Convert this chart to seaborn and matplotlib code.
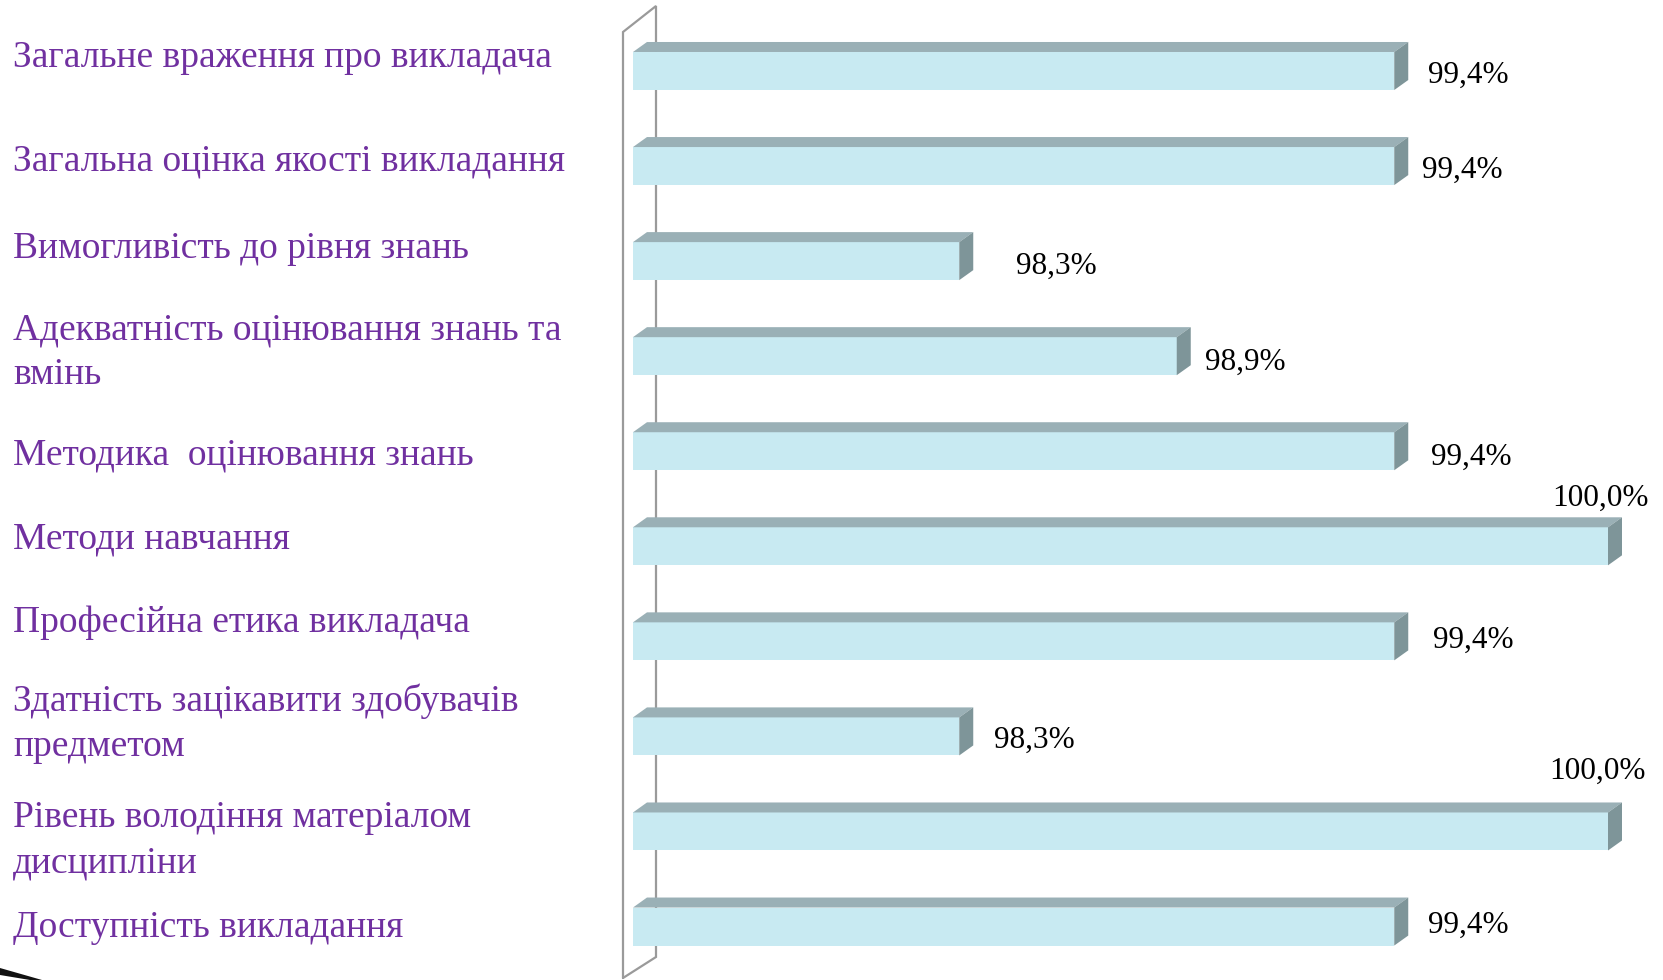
import matplotlib
matplotlib.use("Agg")
import matplotlib.pyplot as plt
from matplotlib.patches import Polygon
import seaborn as sns
import pandas as pd

# ---- data ----
categories = [
    "Загальне враження про викладача",
    "Загальна оцінка якості викладання",
    "Вимогливість до рівня знань",
    "Адекватність оцінювання знань та\nвмінь",
    "Методика  оцінювання знань",
    "Методи навчання",
    "Професійна етика викладача",
    "Здатність зацікавити здобувачів\nпредметом",
    "Рівень володіння матеріалом\nдисципліни",
    "Доступність викладання",
]
values = [99.43, 99.43, 98.27, 98.85, 99.43, 100.0, 99.43, 98.27, 100.0, 99.43]
value_labels = ["99,4%", "99,4%", "98,3%", "98,9%", "99,4%",
                "100,0%", "99,4%", "98,3%", "100,0%", "99,4%"]

# ---- layout / style ----
W, H, DPI = 1663, 980, 100
FRONT = "#c8eaf2"
TOP = "#9ab0b6"
SIDE = "#7e9599"
WALL = "#9a9a9a"
PURPLE = "#7030a0"
SERIF = ["Liberation Serif", "DejaVu Serif"]

px_per_unit_x = 375.0
px_per_row = 95.06
first_center_px = 71.0
x_left_px = 633.0
xmin = 97.4
xmax = xmin + (W - x_left_px) / px_per_unit_x
ytop = -first_center_px / px_per_row
ybot = (H - first_center_px) / px_per_row

depth_dx = 14.0 / px_per_unit_x
depth_dy = 10.0 / px_per_row

# label layout (pixels)
cat_baselines = [[67], [171], [258], [339, 384], [464], [549], [632],
                 [711, 756], [827, 872], [937]]
val_offsets = [(34, 4), (28, 4), (57, 5), (28, 6), (37, 6), (-56, -48),
               (39, -1), (35, 4), (-59, -60), (34, -1)]

df = pd.DataFrame({"category": categories, "value": values})

sns.set_theme(style="white")
plt.rcParams["font.family"] = SERIF

fig = plt.figure(figsize=(W / DPI, H / DPI), dpi=DPI)
fig.patch.set_facecolor("white")
ax = fig.add_axes([x_left_px / W, 0, 1 - x_left_px / W, 1])

sns.barplot(data=df, x="value", y="category", orient="h", width=0.4,
            color=FRONT, saturation=1, ax=ax, zorder=2, linewidth=0)

ax.set_xlim(xmin, xmax)
ax.set_ylim(ybot, ytop)
ax.axis("off")

# 3D top and side faces built from the bar patches
for p, lab, (odx, ody) in zip(ax.patches, value_labels, val_offsets):
    y0 = p.get_y()
    h = p.get_height()
    v = p.get_x() + p.get_width()
    top = Polygon([(xmin, y0), (xmin + depth_dx, y0 - depth_dy),
                   (v + depth_dx, y0 - depth_dy), (v, y0)],
                  closed=True, facecolor=TOP, edgecolor="none", zorder=3)
    side = Polygon([(v, y0), (v + depth_dx, y0 - depth_dy),
                    (v + depth_dx, y0 + h - depth_dy), (v, y0 + h)],
                   closed=True, facecolor=SIDE, edgecolor="none", zorder=3)
    ax.add_patch(top)
    ax.add_patch(side)
    ax.annotate(lab, xy=(v, y0 + h / 2), xytext=(odx, -ody),
                textcoords="offset pixels", ha="left", va="center",
                fontsize=22.5, color="black", family=SERIF,
                annotation_clip=False, zorder=5)

# back wall outline
xl = xmin - 10 / px_per_unit_x
xr = xmin + 23 / px_per_unit_x
def ypx(p):
    return (p - first_center_px) / px_per_row
ax.plot([xl, xl, xr, xr, xl],
        [ypx(978), ypx(32), ypx(6), ypx(957), ypx(978)],
        color=WALL, lw=1.6, clip_on=False, zorder=1,
        solid_joinstyle="miter")

# category labels
for cat, bls in zip(categories, cat_baselines):
    for line, bl in zip(cat.split("\n"), bls):
        fig.text(13 / W, 1 - bl / H, line, ha="left", va="baseline",
                 fontsize=27, color=PURPLE, family=SERIF)

# small slide decoration bottom-left
fig.patches.append(Polygon([(0, 1 - 968 / H), (0, 1 - 975 / H),
                            (30 / W, 0), (42 / W, 0)],
                           closed=True, transform=fig.transFigure,
                           facecolor="#111111", edgecolor="none"))

fig.savefig("out.png", dpi=DPI, facecolor="white")
